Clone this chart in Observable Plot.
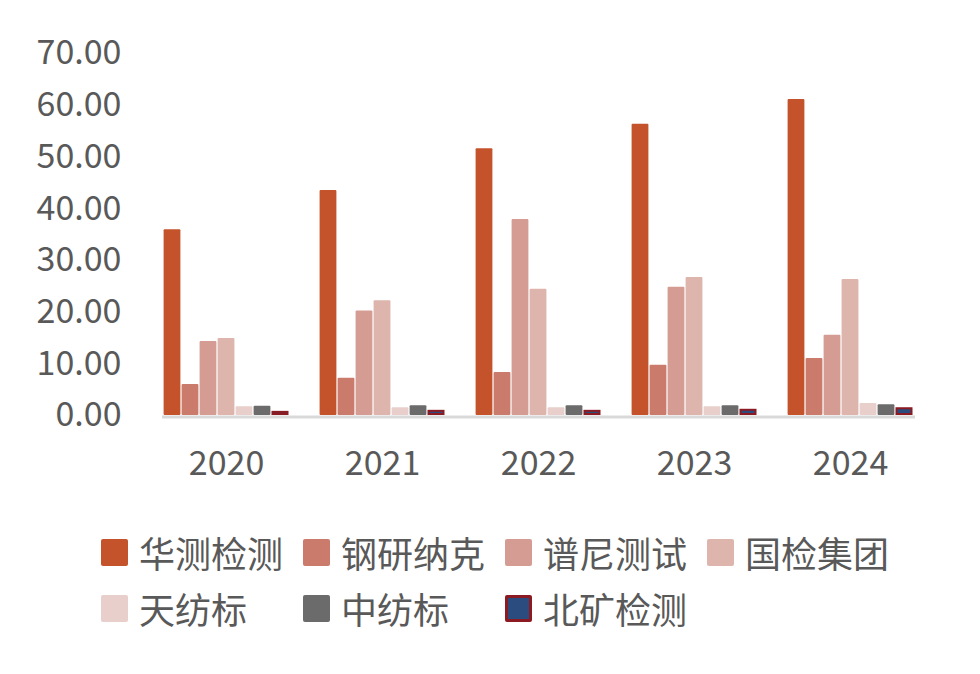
<!DOCTYPE html>
<html>
<head>
<meta charset="utf-8">
<script src="https://cdn.jsdelivr.net/npm/d3@7"></script>
<script src="https://cdn.jsdelivr.net/npm/@observablehq/plot@0.6"></script>
<style>
  html, body { margin: 0; padding: 0; background: #fff; }
  #chart { width: 980px; }
  #legend {
    width: 980px; box-sizing: border-box; padding: 34px 0 0 101px;
    font-family: "Noto Sans CJK SC", "Noto Sans", sans-serif;
    font-size: 36px; color: #595959;
    display: grid; grid-template-columns: repeat(4, 202px); grid-auto-rows: 56px;
  }
  .item { display: flex; align-items: center; white-space: nowrap; }
  .sw { width: 27px; height: 27px; border-radius: 2px; margin-right: 11px; box-sizing: border-box; flex: none; }
</style>
</head>
<body>
<div id="chart"></div>
<div id="legend"></div>
<script>
const years = ["2020", "2021", "2022", "2023", "2024"];
const companies = ["华测检测", "钢研纳克", "谱尼测试", "国检集团", "天纺标", "中纺标", "北矿检测"];
const huace   = [35.9, 43.5, 51.6, 56.3, 61.1];
const gangyan = [6.0, 7.2, 8.3, 9.7, 11.0];
const puni    = [14.3, 20.2, 37.9, 24.8, 15.5];
const guojian = [14.9, 22.2, 24.4, 26.7, 26.3];
const tianfang = [1.7, 1.5, 1.5, 1.7, 2.3];
const zhongfang = [1.8, 1.9, 1.9, 1.9, 2.1];
const beikuang = [0.8, 1.0, 1.0, 1.2, 1.5];
const yTicks = [0, 10, 20, 30, 40, 50, 60, 70];

const series = [huace, gangyan, puni, guojian, tianfang, zhongfang, beikuang];
const fills = ["#C4532B", "#CB7B6B", "#D49C93", "#DDB5AD", "#E8CFCC", "#6B6B6B", "#2B4C7E"];
const strokes = [null, null, null, null, null, null, "#8B1A22"];

const data = [];
years.forEach((yr, i) => companies.forEach((c, j) => data.push({year: yr, company: c, value: series[j][i]})));

const font = '"Noto Sans CJK SC", "Noto Sans", sans-serif';

const chart = Plot.plot({
  width: 980,
  height: 490,
  marginLeft: 147,
  marginRight: 50,
  marginTop: 53,
  marginBottom: 75,
  style: {fontFamily: font, fontSize: "34px", color: "#595959", background: "#fff", overflow: "visible"},
  fx: {domain: years, paddingInner: 0.19, paddingOuter: 0.095, label: null, tickSize: 0, tickPadding: 35, axis: "bottom"},
  x: {domain: companies, padding: 0, axis: null},
  y: {domain: [0, 70], ticks: yTicks, tickFormat: d3.format(".2f"), tickSize: 0, tickPadding: 42, label: null},
  color: {domain: companies, range: fills},
  marks: [
    Plot.barY(data.filter(d => d.company !== "北矿检测"), {fx: "year", x: "company", y: "value", fill: "company", insetLeft: 0.6, insetRight: 0.6, rx: 1}),
    Plot.barY(data.filter(d => d.company === "北矿检测"), {fx: "year", x: "company", y: "value", fill: "#2B4C7E", stroke: "#8B1A22", strokeWidth: 2, insetLeft: 1.5, insetRight: 1.5, insetTop: 1, insetBottom: 1}),
    Plot.frame({anchor: "bottom", stroke: "#D9D9D9", strokeWidth: 3, dy: 1.5, facet: "super"})
  ]
});
document.getElementById("chart").appendChild(chart);

const legend = document.getElementById("legend");
const order = [[0,0],[1,1],[2,2],[3,3],[4,0],[5,1],[6,2]];
order.forEach(([j, col], k) => {
  const item = document.createElement("div");
  item.className = "item";
  item.style.gridColumn = String(col + 1);
  item.style.gridRow = String(k < 4 ? 1 : 2);
  const sw = document.createElement("span");
  sw.className = "sw";
  sw.style.background = fills[j];
  if (strokes[j]) sw.style.border = "3px solid " + strokes[j];
  const t = document.createElement("span");
  t.textContent = companies[j];
  item.appendChild(sw);
  item.appendChild(t);
  legend.appendChild(item);
});
</script>
</body>
</html>
